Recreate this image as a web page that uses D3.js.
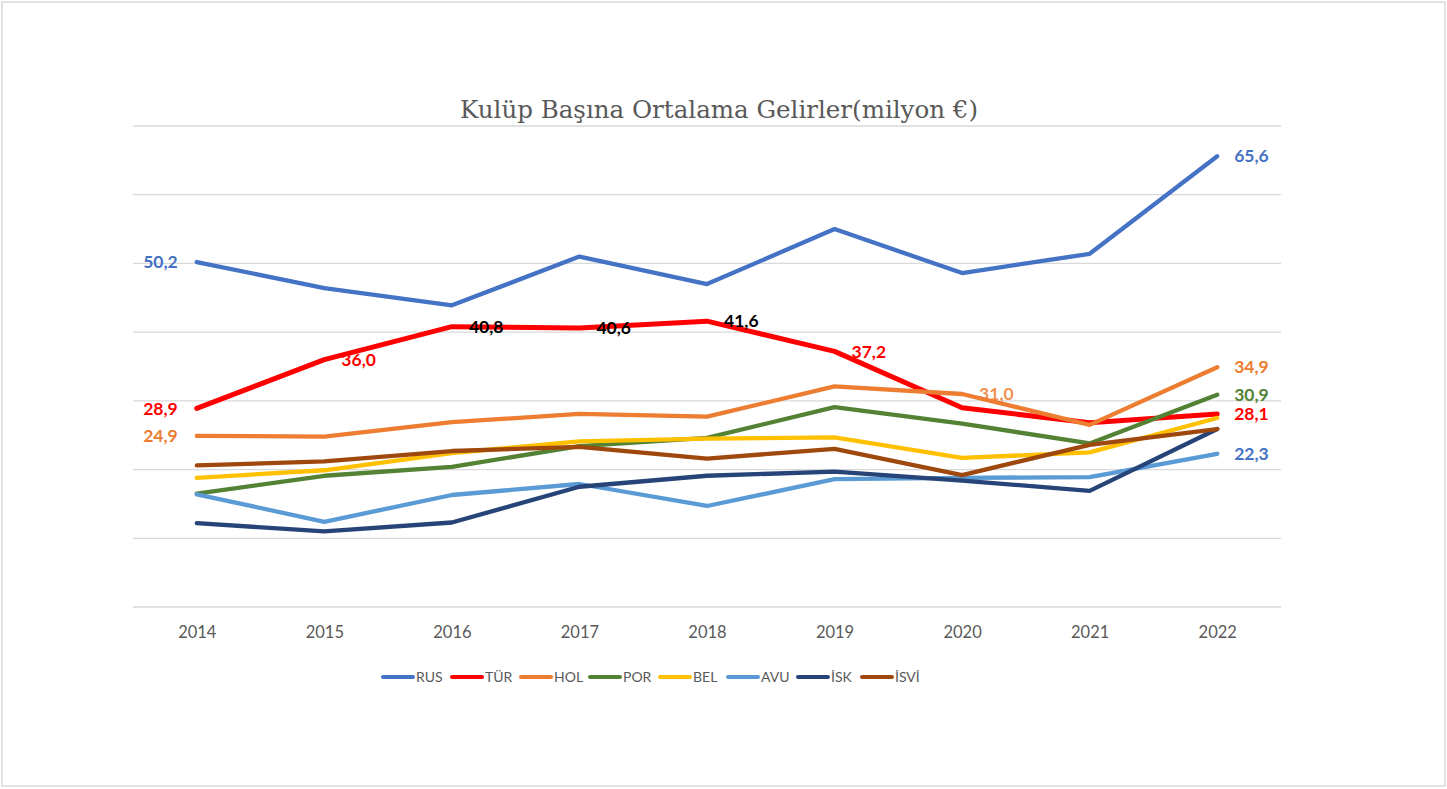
<!DOCTYPE html>
<html>
<head>
<meta charset="utf-8">
<script src="https://cdn.jsdelivr.net/npm/d3@7"></script>
<style>
  html, body { margin: 0; padding: 0; background: #fff; }
  svg { display: block; }
</style>
</head>
<body>
<svg id="chart" width="1447" height="789"></svg>
<script>
const years = ["2014","2015","2016","2017","2018","2019","2020","2021","2022"];
const seriesNames = ["RUS","TÜR","HOL","POR","BEL","AVU","İSK","İSVİ"];
const seriesColors = ["#4472C4","#FF0000","#ED7D31","#548235","#FFC000","#5B9BD5","#264478","#9E480E"];
const RUS  = [50.2, 46.4, 43.9, 51.0, 47.0, 55.0, 48.6, 51.4, 65.6];
const TUR  = [28.9, 36.0, 40.8, 40.6, 41.6, 37.2, 29.0, 26.8, 28.1];
const HOL  = [24.9, 24.8, 26.9, 28.1, 27.7, 32.1, 31.0, 26.5, 34.9];
const POR  = [16.5, 19.1, 20.4, 23.4, 24.6, 29.1, 26.7, 23.8, 30.9];
const BEL  = [18.8, 19.9, 22.4, 24.1, 24.5, 24.7, 21.7, 22.5, 27.5];
const AVU  = [16.4, 12.4, 16.3, 17.9, 14.7, 18.6, 18.8, 18.9, 22.3];
const ISK  = [12.2, 11.0, 12.3, 17.5, 19.1, 19.7, 18.4, 16.9, 25.9];
const ISVI = [20.6, 21.2, 22.7, 23.3, 21.6, 23.0, 19.2, 23.6, 25.9];
const seriesValues = [RUS, TUR, HOL, POR, BEL, AVU, ISK, ISVI];
const yTicks = [0, 10, 20, 30, 40, 50, 60, 70];
const title = "Kulüp Başına Ortalama Gelirler(milyon €)";
// data labels: [series index, year index, side, color]
const dataLabels = [
  [0, 0, "left",  "#4472C4"],
  [0, 8, "right", "#4472C4"],
  [1, 0, "left",  "#FF0000"],
  [1, 1, "right", "#FF0000"],
  [1, 2, "right", "#000000"],
  [1, 3, "right", "#000000"],
  [1, 4, "right", "#000000"],
  [1, 5, "right", "#FF0000"],
  [1, 8, "right", "#FF0000"],
  [2, 0, "left",  "#ED7D31"],
  [2, 8, "right", "#ED7D31"],
  [3, 8, "right", "#548235"],
  [5, 8, "right", "#4472C4"]
];
const underLabels = [[2, 6, "right", "#ED7D31"]];

const svg = d3.select("#chart");
const W = 1447, H = 789;

svg.append("rect").attr("x", 2).attr("y", 2).attr("width", W - 4).attr("height", H - 5)
  .attr("fill", "#fff").attr("stroke", "#d9d9d9").attr("stroke-width", 1.5);

const x = d3.scalePoint().domain(years).range([133, 1281]).padding(0.5);
const y = d3.scaleLinear().domain([0, 70]).range([607, 126]);

// gridlines
svg.append("g").selectAll("line").data(yTicks).join("line")
  .attr("x1", 133).attr("x2", 1281)
  .attr("y1", d => y(d)).attr("y2", d => y(d))
  .attr("stroke", "#d9d9d9").attr("stroke-width", 1.3);

// x axis labels
const xAxis = d3.axisBottom(x).tickSize(0).tickPadding(0);
const gx = svg.append("g").attr("transform", "translate(0,632)").call(xAxis);
gx.select(".domain").remove();
gx.selectAll("text").attr("dy", "0.35em")
  .attr("font-family", "Lato, 'Open Sans', sans-serif").attr("font-size", 16.5).attr("fill", "#595959");

// title
svg.append("text").attr("x", 719).attr("y", 118).attr("text-anchor", "middle")
  .attr("font-family", "'DejaVu Serif Condensed', 'Liberation Serif', serif").attr("font-size", 25)
  .attr("fill", "#595959").attr("textLength", 518).attr("lengthAdjust", "spacingAndGlyphs")
  .text(title);

function fmt(v) { return d3.format(".1f")(v).replace(".", ","); }
function drawLabels(g, arr, opacity) {
  g.selectAll("text").data(arr).join("text")
    .attr("x", d => d[2] === "left" ? x(years[d[1]]) - 19 : x(years[d[1]]) + 17)
    .attr("y", d => y(seriesValues[d[0]][d[1]]))
    .attr("dy", "0.35em")
    .attr("text-anchor", d => d[2] === "left" ? "end" : "start")
    .attr("font-family", "Lato, 'Open Sans', sans-serif").attr("font-weight", "bold").attr("font-size", 17.5)
    .attr("fill", d => d[3]).attr("fill-opacity", opacity)
    .text(d => fmt(seriesValues[d[0]][d[1]]));
}
drawLabels(svg.append("g"), underLabels, 0.85);

// lines
const line = d3.line().x((d, i) => x(years[i])).y(d => y(d));
svg.append("g").selectAll("path").data(seriesValues).join("path")
  .attr("d", d => line(d))
  .attr("fill", "none")
  .attr("stroke", (d, i) => seriesColors[i])
  .attr("stroke-width", (d, i) => i === 1 ? 5 : 4.3)
  .attr("stroke-linejoin", "round").attr("stroke-linecap", "round");

drawLabels(svg.append("g"), dataLabels, 1);

// legend
const legendX = [383, 452, 521, 590, 660, 728, 798, 862];
const lg = svg.append("g").selectAll("g").data(seriesNames).join("g")
  .attr("transform", (d, i) => `translate(${legendX[i]},677)`);
lg.append("line").attr("x1", 0).attr("x2", 30).attr("y1", 0).attr("y2", 0)
  .attr("stroke", (d, i) => seriesColors[i]).attr("stroke-width", 4).attr("stroke-linecap", "round");
lg.append("text").attr("x", 33).attr("y", 0).attr("dy", "0.35em")
  .attr("font-family", "Lato, 'Open Sans', sans-serif").attr("font-size", 14).attr("fill", "#595959")
  .text(d => d);
</script>
</body>
</html>
